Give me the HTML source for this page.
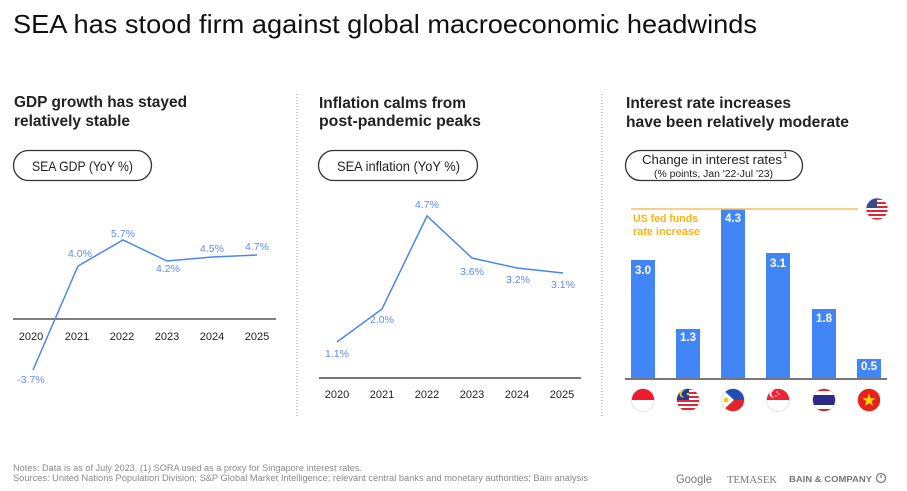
<!DOCTYPE html>
<html><head><meta charset="utf-8"><style>
html,body{margin:0;padding:0;background:#fff;}
svg{display:block;font-family:"Liberation Sans",sans-serif;}
</style></head><body>
<svg width="907" height="491" viewBox="0 0 907 491" xmlns="http://www.w3.org/2000/svg">
<defs>
<clipPath id="c1"><circle cx="643" cy="400" r="11.5"/></clipPath>
<clipPath id="c2"><circle cx="688" cy="400" r="11.5"/></clipPath>
<clipPath id="c3"><circle cx="733" cy="400" r="11.5"/></clipPath>
<clipPath id="c4"><circle cx="778" cy="400" r="11.5"/></clipPath>
<clipPath id="c5"><circle cx="824" cy="400" r="11.5"/></clipPath>
<clipPath id="c6"><circle cx="869" cy="400" r="11.5"/></clipPath>
<clipPath id="cu"><circle cx="877" cy="209" r="11"/></clipPath>
</defs>
<rect width="907" height="491" fill="#fff"/>
<text x="13" y="33" font-size="26" fill="#111" textLength="744" lengthAdjust="spacingAndGlyphs">SEA has stood firm against global macroeconomic headwinds</text>

<!-- separators -->
<line x1="297" y1="94" x2="297" y2="416" stroke="#999" stroke-width="1" stroke-dasharray="1,2"/>
<line x1="602" y1="94" x2="602" y2="416" stroke="#999" stroke-width="1" stroke-dasharray="1,2"/>

<!-- Panel 1 -->
<g font-weight="bold" font-size="16" fill="#222">
<text x="14" y="107" textLength="173" lengthAdjust="spacingAndGlyphs">GDP growth has stayed</text>
<text x="14" y="126" textLength="116" lengthAdjust="spacingAndGlyphs">relatively stable</text>
<text x="319" y="108" textLength="147" lengthAdjust="spacingAndGlyphs">Inflation calms from</text>
<text x="319" y="126" textLength="162" lengthAdjust="spacingAndGlyphs">post-pandemic peaks</text>
<text x="626" y="108" textLength="165" lengthAdjust="spacingAndGlyphs">Interest rate increases</text>
<text x="626" y="127" textLength="223" lengthAdjust="spacingAndGlyphs">have been relatively moderate</text>
</g>

<rect x="13.5" y="150.5" width="138" height="30" rx="15" fill="none" stroke="#333" stroke-width="1.3"/>
<text x="32" y="171" font-size="14" fill="#222" textLength="101" lengthAdjust="spacingAndGlyphs">SEA GDP (YoY %)</text>
<rect x="318.5" y="150.5" width="159" height="30" rx="15" fill="none" stroke="#333" stroke-width="1.3"/>
<text x="337" y="171" font-size="14" fill="#222" textLength="123" lengthAdjust="spacingAndGlyphs">SEA inflation (YoY %)</text>
<rect x="625.5" y="150.5" width="177" height="30" rx="15" fill="none" stroke="#333" stroke-width="1.3"/>
<text x="642" y="164" font-size="13" fill="#222" textLength="140" lengthAdjust="spacingAndGlyphs">Change in interest rates</text>
<text x="783" y="158" font-size="8" fill="#222">1</text>
<text x="654" y="177" font-size="10" fill="#222" textLength="119" lengthAdjust="spacingAndGlyphs">(% points, Jan '22-Jul '23)</text>

<!-- GDP chart -->
<line x1="13" y1="319" x2="276" y2="319" stroke="#333" stroke-width="1.2"/>
<polyline points="33,370 78,266 123,240 167,261 212,257 257,255" fill="none" stroke="#4a86f0" stroke-width="1.5"/>
<g font-size="11" fill="#222" text-anchor="middle">
<text x="31" y="340">2020</text><text x="77" y="340">2021</text><text x="122" y="340">2022</text>
<text x="167" y="340">2023</text><text x="212" y="340">2024</text><text x="257" y="340">2025</text>
</g>
<g font-size="10.5" fill="#5b8def" text-anchor="middle">
<text x="31" y="383">-3.7%</text><text x="80" y="257">4.0%</text><text x="123" y="237">5.7%</text>
<text x="168" y="272">4.2%</text><text x="212" y="252">4.5%</text><text x="257" y="250">4.7%</text>
</g>

<!-- Inflation chart -->
<line x1="319" y1="378" x2="581" y2="378" stroke="#777" stroke-width="2"/>
<polyline points="337,342 382,309 427,216 472,258 517,268 563,273" fill="none" stroke="#4a86f0" stroke-width="1.5"/>
<g font-size="11" fill="#222" text-anchor="middle">
<text x="337" y="398">2020</text><text x="382" y="398">2021</text><text x="427" y="398">2022</text>
<text x="472" y="398">2023</text><text x="517" y="398">2024</text><text x="562" y="398">2025</text>
</g>
<g font-size="10.5" fill="#5b8def" text-anchor="middle">
<text x="337" y="357">1.1%</text><text x="382" y="323">2.0%</text><text x="427" y="208">4.7%</text>
<text x="472" y="275">3.6%</text><text x="518" y="283">3.2%</text><text x="563" y="288">3.1%</text>
</g>

<!-- Bars -->
<g fill="#4285f4">
<rect x="631" y="260" width="24" height="119"/>
<rect x="676" y="329" width="24" height="50"/>
<rect x="721" y="209" width="24" height="170"/>
<rect x="766" y="253" width="24" height="126"/>
<rect x="812" y="309" width="24" height="70"/>
<rect x="857" y="359" width="24" height="20"/>
</g>
<g font-size="11.5" font-weight="bold" fill="#fff" text-anchor="middle">
<text x="643" y="274">3.0</text><text x="688" y="341">1.3</text><text x="733" y="222">4.3</text>
<text x="778" y="267">3.1</text><text x="824" y="322">1.8</text><text x="869" y="370">0.5</text>
</g>
<line x1="625" y1="379" x2="887" y2="379" stroke="#777" stroke-width="2"/>
<line x1="631" y1="209" x2="858" y2="209" stroke="#f7c05a" stroke-width="1.5"/>
<g font-size="11" font-weight="bold" fill="#f9b410">
<text x="633" y="222" textLength="65" lengthAdjust="spacingAndGlyphs">US fed funds</text>
<text x="633" y="235" textLength="67" lengthAdjust="spacingAndGlyphs">rate increase</text>
</g>

<!-- US flag -->
<g clip-path="url(#cu)">
<rect x="864" y="196" width="26" height="26" fill="#fff"/>
<g fill="#d8283a">
<rect x="864" y="198" width="26" height="2"/><rect x="864" y="202" width="26" height="2"/>
<rect x="864" y="206" width="26" height="2"/><rect x="864" y="210" width="26" height="2"/>
<rect x="864" y="214" width="26" height="2"/><rect x="864" y="218" width="26" height="2"/>
</g>
<rect x="864" y="196" width="13" height="12" fill="#3c4a8c"/>
</g>
<circle cx="877" cy="209" r="11" fill="none" stroke="#ddd" stroke-width="0.8"/>

<!-- Flags -->
<g clip-path="url(#c1)">
<rect x="630" y="387" width="26" height="13" fill="#ee1c2e"/>
<rect x="630" y="400" width="26" height="13" fill="#fff"/>
</g>
<g clip-path="url(#c2)">
<rect x="675" y="387" width="26" height="26" fill="#fff"/>
<g fill="#d8283a">
<rect x="675" y="388" width="26" height="2"/><rect x="675" y="392" width="26" height="2"/>
<rect x="675" y="396" width="26" height="2"/><rect x="675" y="400" width="26" height="2"/>
<rect x="675" y="404" width="26" height="2"/><rect x="675" y="408" width="26" height="2"/>
</g>
<rect x="675" y="387" width="14" height="13" fill="#1f3a93"/>
<circle cx="683" cy="394" r="3.5" fill="#f5c518"/><circle cx="684.5" cy="394" r="3" fill="#1f3a93"/>
<circle cx="688" cy="394" r="1.3" fill="#f5c518"/>
</g>
<g clip-path="url(#c3)">
<rect x="720" y="387" width="26" height="13" fill="#1f4fb5"/>
<rect x="720" y="400" width="26" height="13" fill="#e0252b"/>
<polygon points="720,387 734,400 720,413" fill="#fff"/>
<circle cx="726" cy="400" r="2.5" fill="#f5c518"/>
</g>
<g clip-path="url(#c4)">
<rect x="765" y="387" width="26" height="13" fill="#ee2536"/>
<rect x="765" y="400" width="26" height="13" fill="#fff"/>
<circle cx="773" cy="394" r="3.5" fill="#fff"/><circle cx="774.5" cy="394" r="3.2" fill="#ee2536"/>
<circle cx="777" cy="392" r="0.8" fill="#fff"/><circle cx="779" cy="394" r="0.8" fill="#fff"/><circle cx="776" cy="396" r="0.8" fill="#fff"/>
</g>
<g clip-path="url(#c5)">
<rect x="811" y="387" width="26" height="26" fill="#e0252b"/>
<rect x="811" y="391" width="26" height="18" fill="#fff"/>
<rect x="811" y="395" width="26" height="10" fill="#2d2a8a"/>
</g>
<g clip-path="url(#c6)">
<rect x="856" y="387" width="26" height="26" fill="#e8201c"/>
<polygon points="869,393.5 870.6,398.3 875.6,398.3 871.6,401.2 873.1,406 869,403.1 864.9,406 866.4,401.2 862.4,398.3 867.4,398.3" fill="#f8d800"/>
</g>
<g fill="none" stroke="#ddd" stroke-width="0.8">
<circle cx="643" cy="400" r="11.5"/><circle cx="688" cy="400" r="11.5"/><circle cx="733" cy="400" r="11.5"/>
<circle cx="778" cy="400" r="11.5"/><circle cx="824" cy="400" r="11.5"/><circle cx="869" cy="400" r="11.5"/>
</g>

<!-- Footer -->
<g font-size="9" fill="#8a8a8a">
<text x="13" y="471" textLength="349" lengthAdjust="spacingAndGlyphs">Notes: Data is as of July 2023. (1) SORA used as a proxy for Singapore interest rates.</text>
<text x="13" y="481" textLength="575" lengthAdjust="spacingAndGlyphs">Sources: United Nations Population Division; S&amp;P Global Market Intelligence; relevant central banks and monetary authorities; Bain analysis</text>
</g>
<text x="676" y="483" font-size="12" fill="#777" textLength="36" lengthAdjust="spacingAndGlyphs">Google</text>
<text x="727" y="483" font-size="11" fill="#777" font-family="Liberation Serif, serif" textLength="50" lengthAdjust="spacingAndGlyphs">TEMASEK</text>
<text x="789" y="482" font-size="8.5" font-weight="bold" fill="#777" textLength="83" lengthAdjust="spacingAndGlyphs">BAIN &amp; COMPANY</text>
<circle cx="881" cy="478" r="4.5" fill="none" stroke="#777" stroke-width="1.2"/>
<line x1="881" y1="478" x2="881" y2="475" stroke="#777" stroke-width="1.2"/>
</svg>
</body></html>
